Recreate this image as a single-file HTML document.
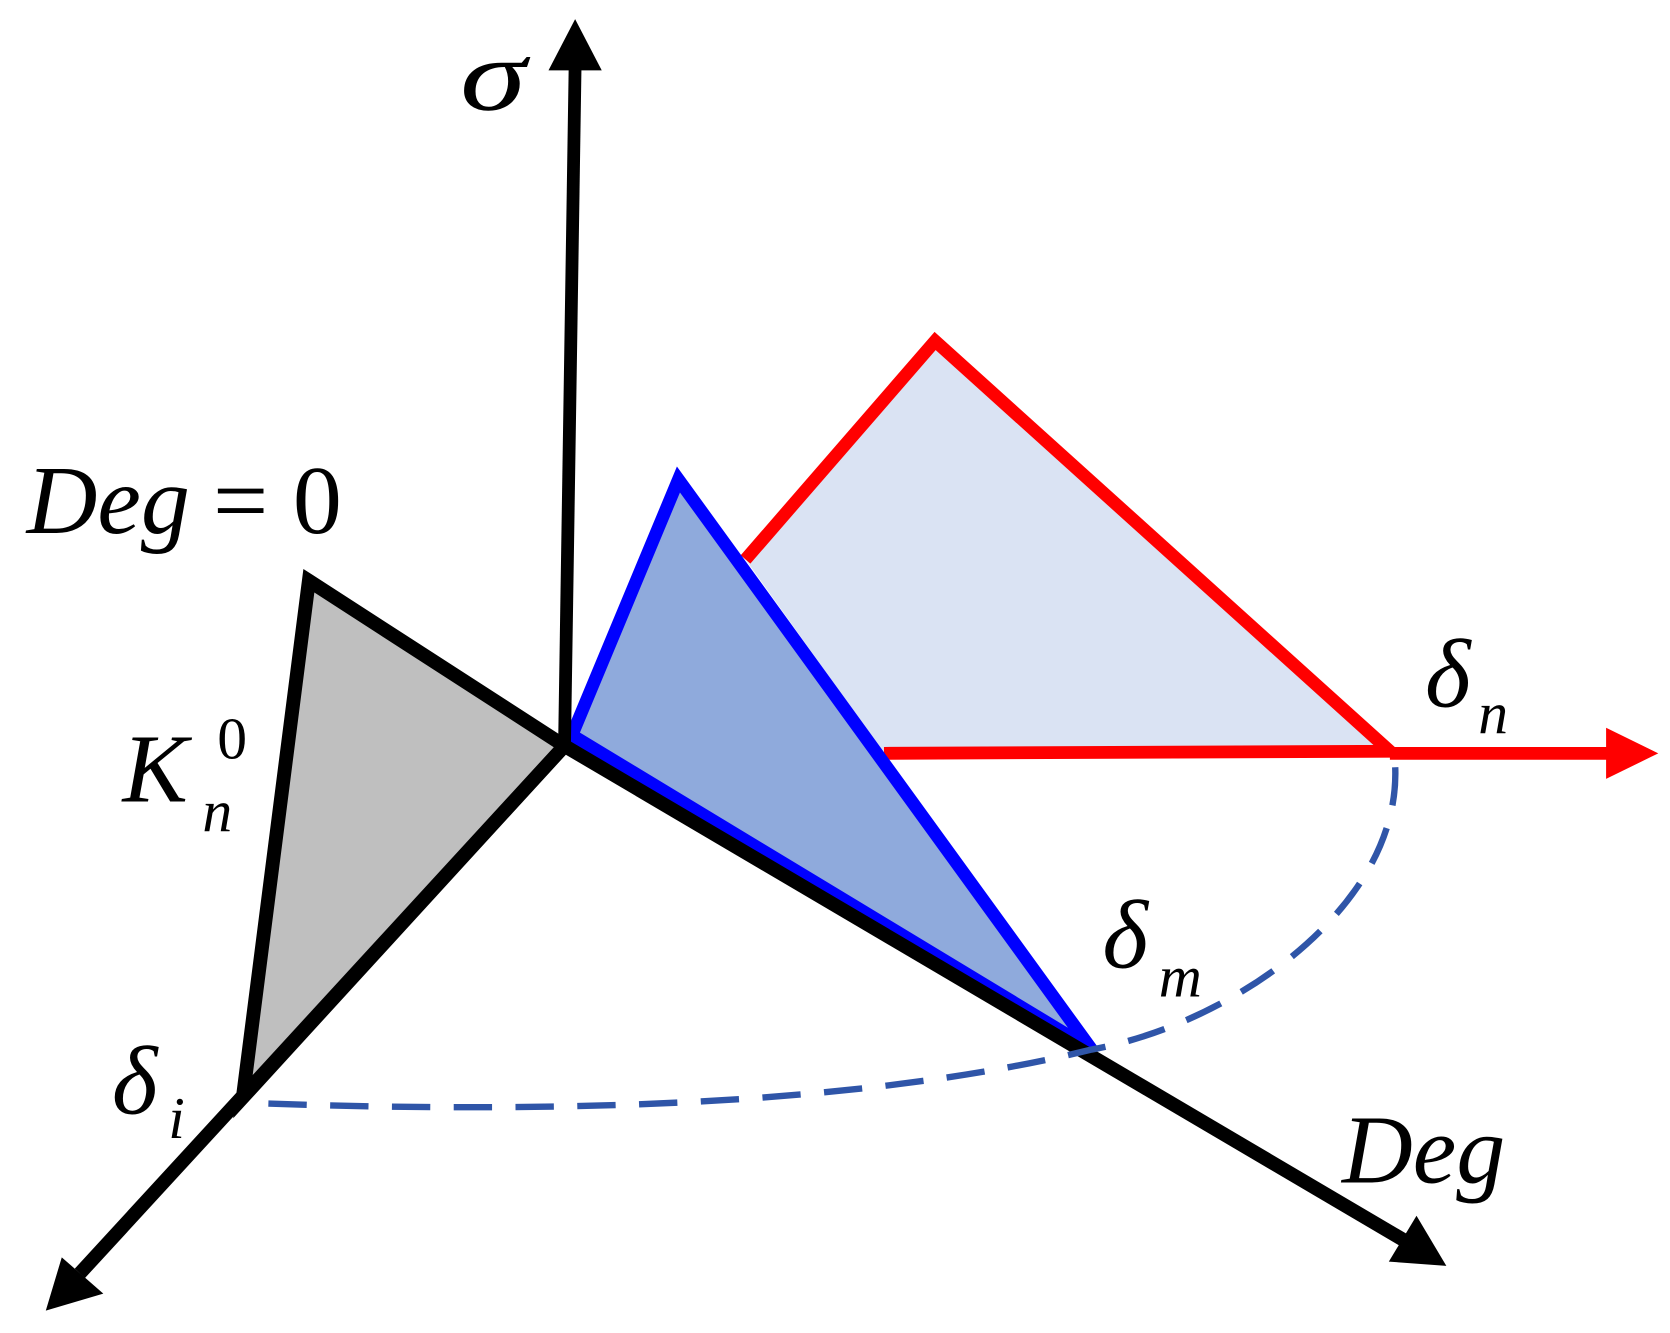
<!DOCTYPE html>
<html><head><style>html,body{margin:0;padding:0;background:#fff}svg{display:block}</style></head>
<body>
<svg width="1670" height="1333" viewBox="0 0 1568 1251" preserveAspectRatio="none" xmlns="http://www.w3.org/2000/svg" font-family="'Liberation Serif', serif" font-style="italic">
<polygon points="700,525 878,320 1305,705 830,707" fill="#dae3f3"/>
<polyline points="700,525 878,320 1305,705 830,707" fill="none" stroke="#ff0000" stroke-width="12"/>
<line x1="1305" y1="707" x2="1515" y2="707" stroke="#ff0000" stroke-width="12"/>
<polygon points="1557,707 1508,683 1508,731" fill="#ff0000"/>
<polygon points="290,545 530,700 228,1030" fill="#bfbfbf" stroke="#000" stroke-width="13" stroke-linejoin="miter"/>
<polygon points="637,450 537,690 1025,985" fill="#8faadc" stroke="#0000ff" stroke-width="12"/>
<line x1="530" y1="702" x2="540" y2="60" stroke="#000" stroke-width="12"/>
<polygon points="540,18 515,66 565,66" fill="#000"/>
<line x1="530" y1="700" x2="75" y2="1195" stroke="#000" stroke-width="13"/>
<polygon points="43,1230 58,1180 97,1214" fill="#000"/>
<line x1="530" y1="700" x2="1320" y2="1165" stroke="#000" stroke-width="13"/>
<polygon points="1358,1188 1304,1184 1330,1141" fill="#000"/>
<path d="M1310,720 C1315,850 1160,960 1025,985 C800,1040 500,1045 232,1035" fill="none" stroke="#2f55a8" stroke-width="6" stroke-dasharray="36,22"/>
<text x="432" y="103" font-size="96" textLength="62" lengthAdjust="spacingAndGlyphs">σ</text>
<text x="25" y="500" font-size="92">Deg</text>
<text x="200" y="500" font-size="92" font-style="normal">=</text>
<text x="275" y="500" font-size="92" font-style="normal">0</text>
<text x="115" y="752" font-size="92">K</text>
<text x="204" y="712" font-size="56" font-style="normal">0</text>
<text x="190" y="780" font-size="56">n</text>
<text x="105" y="1045" font-size="92">δ</text>
<text x="158" y="1068" font-size="56">i</text>
<text x="1338" y="663" font-size="92">δ</text>
<text x="1388" y="688" font-size="56">n</text>
<text x="1035" y="908" font-size="92">δ</text>
<text x="1088" y="935" font-size="56">m</text>
<text x="1260" y="1110" font-size="92">Deg</text>
</svg>
</body></html>
